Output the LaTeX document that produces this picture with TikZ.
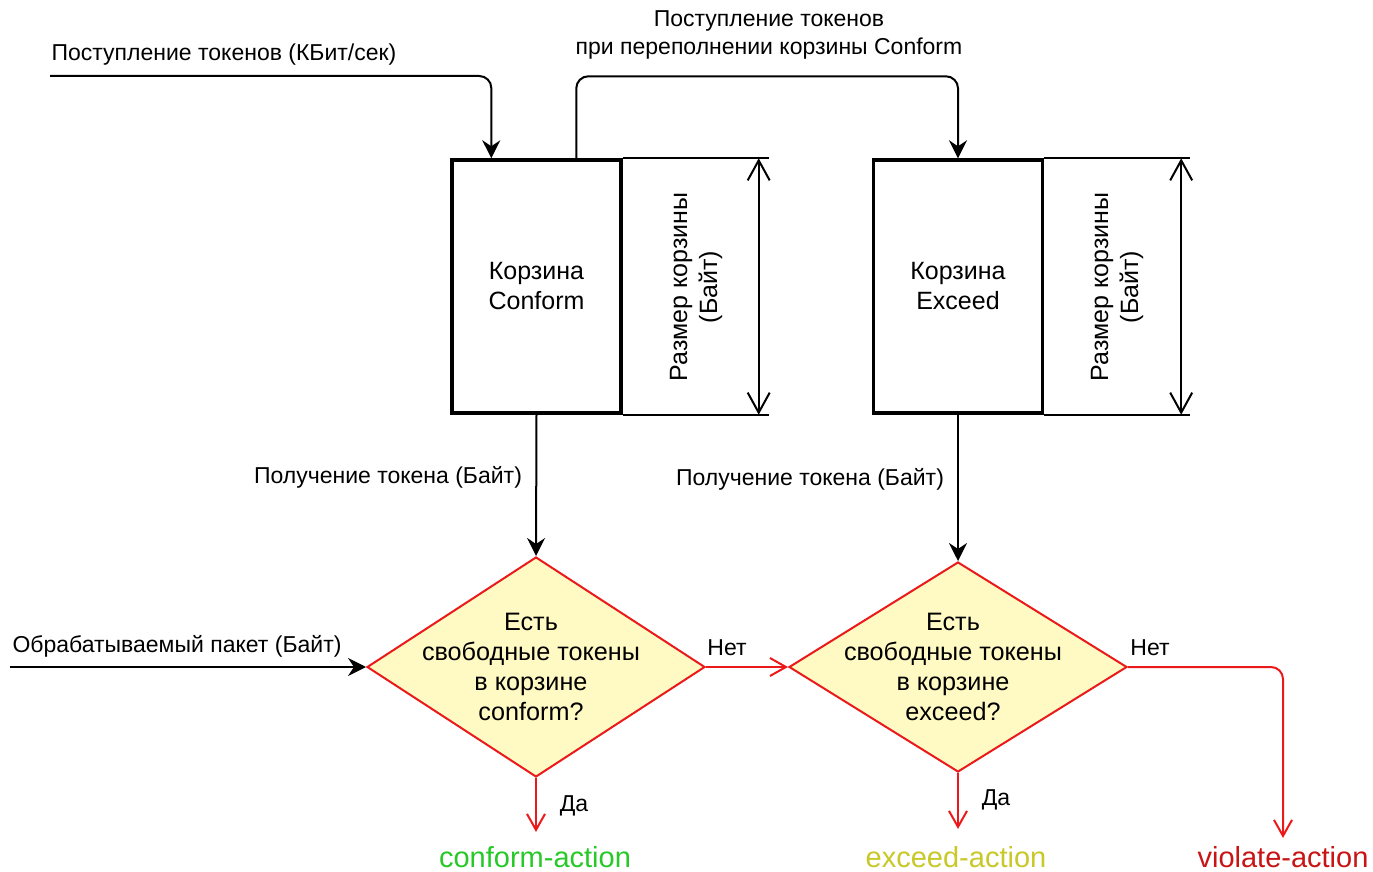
\documentclass[tikz,border=0pt]{standalone}
\usepackage{fontspec}
\setmainfont{Liberation Sans}
\usetikzlibrary{calc,positioning,shapes.geometric,arrows.meta}
\definecolor{flowRed}{RGB}{235,25,25}
\definecolor{decisionFill}{RGB}{255,250,195}
\definecolor{conformGreen}{RGB}{40,200,40}
\definecolor{exceedYellow}{RGB}{200,200,40}
\definecolor{violateRed}{RGB}{200,20,20}

\begin{document}
\begin{tikzpicture}[x=0.5pt, y=-0.5pt,
    bucket/.style={draw, line width=1.7pt, minimum width=84.5pt, minimum height=126.5pt, align=center, font=\fontsize{12.5}{15}\selectfont},
    decision/.style={diamond, draw=flowRed, fill=decisionFill, line width=1pt, inner sep=0pt, minimum width=169pt},
    qtext/.style={align=center, font=\fontsize{12.6}{15}\selectfont},
    lbl/.style={font=\fontsize{11.5}{14}\selectfont, align=center, inner sep=0pt},
    arr/.style={-{Stealth[length=9pt,width=9pt,inset=3pt]}, line width=1pt, rounded corners=6pt},
    redarr/.style={-{Straight Barb[length=8pt,width=9pt]}, draw=flowRed, line width=1pt, rounded corners=6pt},
    dimarr/.style={{Straight Barb[length=10pt,width=11pt]}-{Straight Barb[length=10pt,width=11pt]}, line width=1pt},
    act/.style={font=\fontsize{14.5}{17}\selectfont, inner sep=0pt}]
    \useasboundingbox (0,0) rectangle (1373,872);

    % buckets
    \node[bucket] (boxConform) at (536.5,286.5) {Корзина\\Conform};
    \node[bucket] (boxExceed) at (958,286.5) {Корзина\\Exceed};

    % bucket size marks
    \draw[line width=1pt] (boxConform.north east) -- ++(146,0);
    \draw[line width=1pt] (boxConform.south east) -- ++(146,0);
    \draw[dimarr] ($(boxConform.north east)+(136,0)$) -- ($(boxConform.south east)+(136,0)$);
    \node[lbl, rotate=90, font=\fontsize{12.5}{15}\selectfont] (sizeConform) at (696,287) {Размер корзины\\(Байт)};
    \draw[line width=1pt] (boxExceed.north east) -- ++(146,0);
    \draw[line width=1pt] (boxExceed.south east) -- ++(146,0);
    \draw[dimarr] ($(boxExceed.north east)+(137,0)$) -- ($(boxExceed.south east)+(137,0)$);
    \node[lbl, rotate=90, font=\fontsize{12.5}{15}\selectfont] (sizeExceed) at (1117,287) {Размер корзины\\(Байт)};

    % decisions
    \node[decision, minimum height=110pt] (decConform) at (536,667) {};
    \node[qtext] (qConform) at ($(decConform.center)+(-5,0)$) {Есть\\свободные токены\\в корзине\\conform?};
    \node[decision, minimum height=105pt] (decExceed) at (958,667) {};
    \node[qtext] (qExceed) at ($(decExceed.center)+(-5,0)$) {Есть\\свободные токены\\в корзине\\exceed?};

    % token input
    \coordinate (tokIn) at (50,76);
    \draw[arr] (tokIn) -| ($(boxConform.north west)+(41,0)$);
    \node[lbl] (tokInLbl) at (224,55) {Поступление токенов (КБит/сек)};

    % overflow
    \draw[arr] ($(boxConform.north west)+(126,0)$) -- ++(0,-82) -| (boxExceed.north);
    \node[lbl] (overLbl) at (769,35) {Поступление токенов\\при переполнении корзины Conform};

    % token take
    \draw[arr] (boxConform.south) -- (decConform.north);
    \node[lbl] (takeConform) at (388,477) {Получение токена (Байт)};
    \draw[arr] (boxExceed.south) -- (decExceed.north);
    \node[lbl] (takeExceed) at (810,479) {Получение токена (Байт)};

    % packet input
    \coordinate (pktIn) at (10,667);
    \draw[arr] (pktIn) -- (decConform.west);
    \node[lbl] (pktLbl) at (177,646) {Обрабатываемый пакет (Байт)};

    % results
    \node[act, text=conformGreen] (actConform) at (535,857) {conform-action};
    \node[act, text=exceedYellow] (actExceed) at (956,857) {exceed-action};
    \node[act, text=violateRed] (actViolate) at (1283,857) {violate-action};

    \draw[redarr] (decConform.east) -- (decExceed.west);
    \node[lbl] (noConform) at (727,648) {Нет};
    \draw[redarr] (decExceed.east) -| ($(actViolate.north)+(0,-8)$);
    \node[lbl] (noExceed) at (1150,648) {Нет};
    \draw[redarr] (decConform.south) -- ($(actConform.north)+(1,-14)$);
    \node[lbl] (yesConform) at (574,806) {Да};
    \draw[redarr] (decExceed.south) -- ($(actExceed.north)+(2,-17)$);
    \node[lbl] (yesExceed) at (996,800) {Да};
\end{tikzpicture}
\end{document}
